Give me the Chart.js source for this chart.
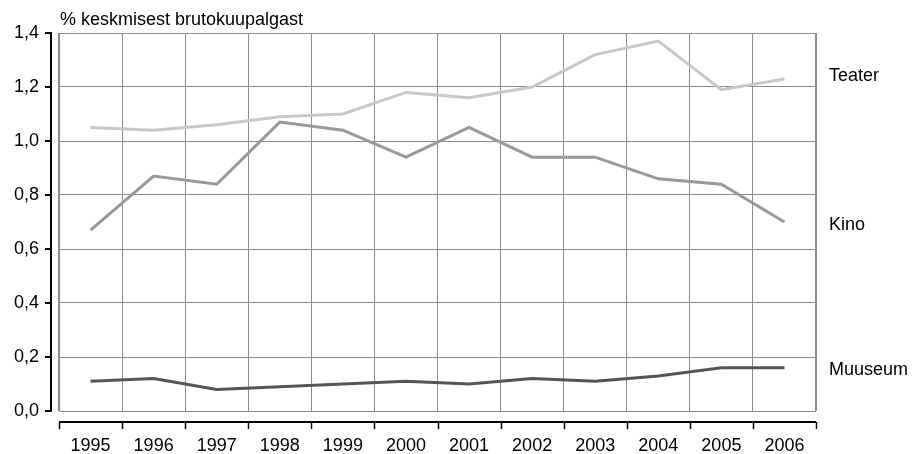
<!DOCTYPE html>
<html>
<head>
<meta charset="utf-8">
<script src="https://cdn.jsdelivr.net/npm/chart.js@4"></script>
<style>
  html, body { margin: 0; padding: 0; background: #fff; }
  #wrap { width: 912px; height: 454px; position: relative; }
</style>
</head>
<body>
<div id="wrap"><canvas id="chart" width="912" height="454"></canvas></div>
<script>
const years = ['1995', '1996', '1997', '1998', '1999', '2000', '2001', '2002', '2003', '2004', '2005', '2006'];
const teater = [1.05, 1.04, 1.06, 1.09, 1.10, 1.18, 1.16, 1.20, 1.32, 1.37, 1.19, 1.23];
const kino = [0.67, 0.87, 0.84, 1.07, 1.04, 0.94, 1.05, 0.94, 0.94, 0.86, 0.84, 0.70];
const muuseum = [0.11, 0.12, 0.08, 0.09, 0.10, 0.11, 0.10, 0.12, 0.11, 0.13, 0.16, 0.16];
const yTicks = [0, 0.2, 0.4, 0.6, 0.8, 1.0, 1.2, 1.4];

const FONT = 'Arial, "Liberation Sans", sans-serif';

// eraldi asetsevad teljed, ääris ja seeriate nimed paremal
const axesPlugin = {
  id: 'axesPlugin',
  afterDraw(chart) {
    const { ctx, chartArea: a, scales } = chart;
    const y = scales.y;
    ctx.save();
    // joonise raam
    ctx.strokeStyle = '#8c8c8c';
    ctx.lineWidth = 1;
    ctx.strokeRect(a.left + 0.5, a.top + 0.5, a.right - a.left - 1, a.bottom - a.top);

    ctx.strokeStyle = '#000';
    ctx.lineWidth = 2;
    // y-telg
    ctx.beginPath();
    ctx.moveTo(51, a.top - 1);
    ctx.lineTo(51, a.bottom + 1);
    yTicks.forEach(v => {
      const py = Math.round(y.getPixelForValue(v));
      ctx.moveTo(45, py);
      ctx.lineTo(51, py);
    });
    ctx.stroke();
    // x-telg
    const ax = a.bottom + 11;
    ctx.beginPath();
    ctx.moveTo(a.left, ax);
    ctx.lineTo(a.right, ax);
    ctx.stroke();
    ctx.lineWidth = 1.5;
    ctx.beginPath();
    const step = (a.right - a.left) / years.length;
    for (let i = 0; i <= years.length; i++) {
      const px = Math.round(a.left + i * step) + 0.5;
      ctx.moveTo(px, ax);
      ctx.lineTo(px, ax + 7);
    }
    ctx.stroke();

    // pealkiri
    ctx.fillStyle = '#000';
    ctx.font = '18px ' + FONT;
    ctx.textBaseline = 'alphabetic';
    ctx.textAlign = 'left';
    ctx.fillText('% keskmisest brutokuupalgast', 60, 25);

    // seeriate nimed viimase väärtuse kõrgusel
    const nudge = { Teater: -3, Kino: 3, Muuseum: 2 };
    ctx.textBaseline = 'middle';
    chart.data.datasets.forEach(ds => {
      const last = ds.data[ds.data.length - 1];
      ctx.fillText(ds.label, 829, y.getPixelForValue(last) + nudge[ds.label]);
    });
    ctx.restore();
  }
};

new Chart(document.getElementById('chart'), {
  type: 'line',
  data: {
    labels: years,
    datasets: [
      { label: 'Teater', data: teater, borderColor: '#c8c8c8' },
      { label: 'Kino', data: kino, borderColor: '#999999' },
      { label: 'Muuseum', data: muuseum, borderColor: '#555555' }
    ].map(d => Object.assign(d, {
      borderWidth: 3,
      pointRadius: 0,
      tension: 0,
      fill: false,
      borderJoinStyle: 'miter'
    }))
  },
  options: {
    responsive: false,
    animation: false,
    layout: { padding: { top: 33, right: 96, bottom: 0, left: 0 } },
    plugins: {
      legend: { display: false },
      tooltip: { enabled: false }
    },
    scales: {
      x: {
        type: 'category',
        offset: true,
        afterFit(s) { s.height = 43; },
        grid: { offset: true, color: '#8c8c8c', lineWidth: 1, drawTicks: false },
        border: { display: false },
        ticks: { color: '#000', padding: 24, maxRotation: 0, autoSkip: false, font: { family: FONT, size: 18 } }
      },
      y: {
        min: 0,
        max: 1.4,
        afterFit(s) { s.width = 59; },
        afterBuildTicks(s) { s.ticks = yTicks.map(v => ({ value: v })); },
        grid: { color: '#8c8c8c', lineWidth: 1, drawTicks: false },
        border: { display: false },
        ticks: {
          color: '#000',
          padding: 20,
          font: { family: FONT, size: 18 },
          callback: v => v.toFixed(1).replace('.', ',')
        }
      }
    }
  },
  plugins: [axesPlugin]
});
</script>
</body>
</html>
